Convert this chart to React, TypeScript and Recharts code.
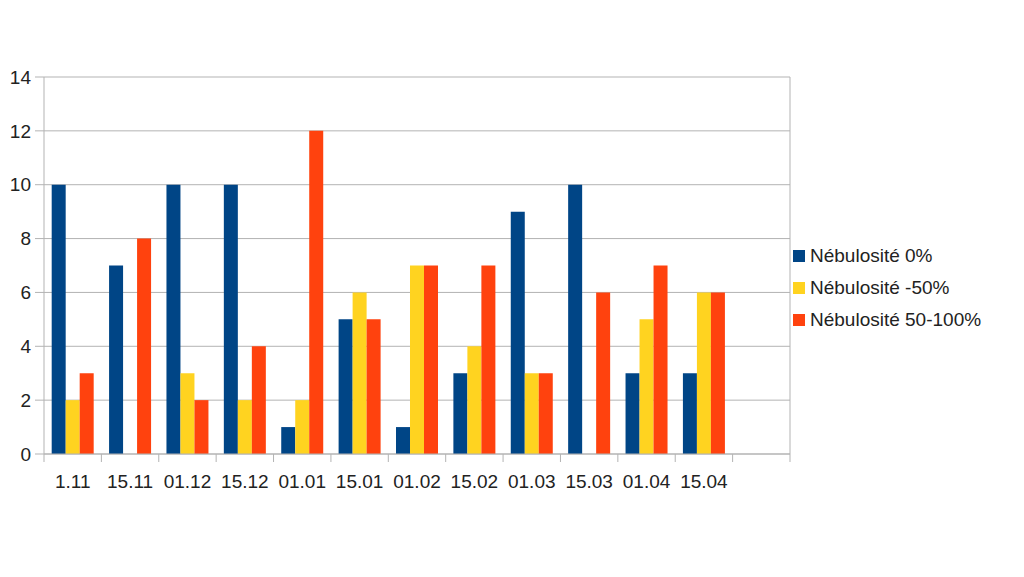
import React from 'react';
import { BarChart, Bar, XAxis, YAxis, CartesianGrid } from 'recharts';

const categories = ['1.11', '15.11', '01.12', '15.12', '01.01', '15.01', '01.02', '15.02', '01.03', '15.03', '01.04', '15.04', ''];
const neb0 = [10, 7, 10, 10, 1, 5, 1, 3, 9, 10, 3, 3, null];
const neb50 = [2, 0, 3, 2, 2, 6, 7, 4, 3, 0, 5, 6, null];
const neb100 = [3, 8, 2, 4, 12, 5, 7, 7, 3, 6, 7, 6, null];
const yTicks = [0, 2, 4, 6, 8, 10, 12, 14];

const seriesNames = ['Nébulosité 0%', 'Nébulosité -50%', 'Nébulosité 50-100%'];
const seriesKeys = ['n0', 'n50', 'n100'];
const colors = ['#004586', '#ffd320', '#ff420e'];

const data = categories.map((c, i) => ({ cat: c, n0: neb0[i], n50: neb50[i], n100: neb100[i] }));

const FONT = '"Liberation Sans", Arial, sans-serif';
const GRID = '#b3b3b3';
const TEXT = '#222222';
const TICK_SIZE = 8;
const TICK_MARGIN = 13;

const XTick = (props: any) => {
  const { x, y, payload, index, width } = props;
  const band = (width || 746) / categories.length;
  const axisY = y - TICK_SIZE - TICK_MARGIN;
  const left = x - band / 2;
  return (
    <g>
      <line x1={left} x2={left} y1={axisY} y2={axisY + TICK_SIZE} stroke={GRID} strokeWidth={1} />
      {index === categories.length - 1 && (
        <line x1={x + band / 2} x2={x + band / 2} y1={axisY} y2={axisY + TICK_SIZE} stroke={GRID} strokeWidth={1} />
      )}
      <text x={x} y={y} dy="0.71em" textAnchor="middle" fill={TEXT} fontSize={19} fontFamily={FONT}>
        {payload.value}
      </text>
    </g>
  );
};

export default function App() {
  return (
    <div style={{ position: 'absolute', left: 0, top: 0, width: 1024, height: 577, background: '#fff' }}>
      <BarChart
        width={1024}
        height={577}
        data={data}
        margin={{ top: 77, right: 234, bottom: 83, left: 0 }}
        barCategoryGap="13.4%"
        barGap={0}
      >
        <CartesianGrid
          stroke={GRID}
          vertical={true}
          verticalCoordinatesGenerator={(p: any) => [p.offset.left + p.offset.width]}
        />
        <XAxis
          dataKey="cat"
          interval={0}
          height={40}
          tickSize={TICK_SIZE}
          tickMargin={TICK_MARGIN}
          tickLine={false}
          axisLine={{ stroke: GRID }}
          tick={<XTick />}
        />
        <YAxis
          domain={[0, 14]}
          ticks={yTicks}
          width={44}
          tickSize={9}
          tickMargin={4}
          axisLine={{ stroke: GRID }}
          tickLine={{ stroke: GRID }}
          tick={{ fill: TEXT, fontSize: 19, fontFamily: FONT }}
        />
        {seriesKeys.map((k, i) => (
          <Bar key={k} dataKey={k} name={seriesNames[i]} fill={colors[i]} isAnimationActive={false} />
        ))}
      </BarChart>
      <div style={{ position: 'absolute', left: 793, top: 240, fontFamily: FONT, fontSize: 19, color: TEXT }}>
        {seriesNames.map((n, i) => (
          <div key={n} style={{ display: 'flex', alignItems: 'center', height: 32 }}>
            <span style={{ display: 'inline-block', width: 12, height: 12, background: colors[i], marginRight: 5 }} />
            <span>{n}</span>
          </div>
        ))}
      </div>
    </div>
  );
}
